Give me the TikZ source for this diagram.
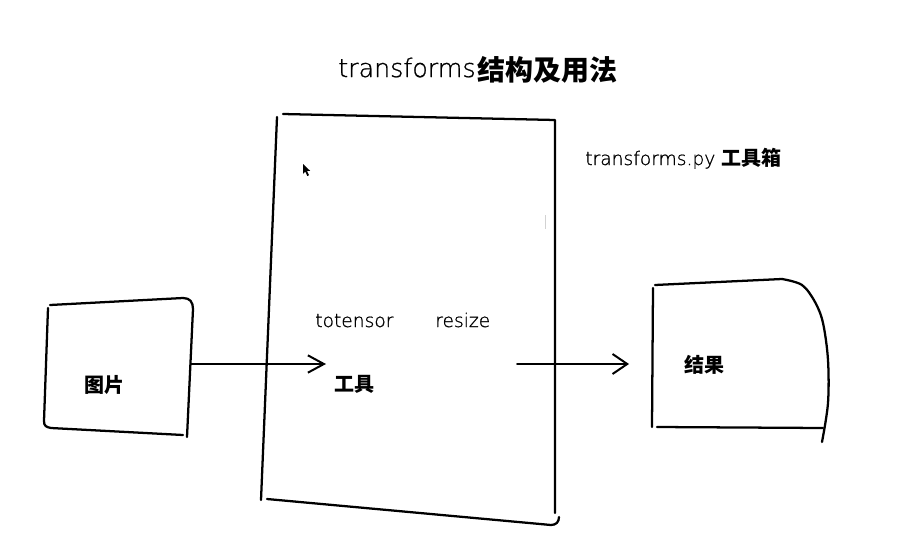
\documentclass[tikz,border=0pt]{standalone}
\usepackage{fontspec}
\usetikzlibrary{arrows.meta}
\newfontfamily\hand[FakeBold=0.9]{DejaVu Sans ExtraLight}
\newfontfamily\cjk{Noto Sans CJK SC}
\tikzset{
  sk/.style={line width=1.7pt, line cap=round, line join=round, black},
  conn/.style={line width=1.5pt, line cap=round, black},
  lat/.style={inner sep=0pt, anchor=base west, font=\hand},
  zh/.style={inner sep=0pt, anchor=base west, font=\cjk\bfseries},
}
\begin{document}
\begin{tikzpicture}[x=0.75pt,y=-0.75pt]
\useasboundingbox[fill=white] (0,0) rectangle (903,546);

% title
\node[lat, font=\hand\fontsize{19}{22}\selectfont] (title1) at (338,77) {transforms};
\node[zh, font=\cjk\bfseries\fontsize{21}{24}\selectfont] (title2) at (477,80) {结构及用法};

% toolbox caption
\node[lat, font=\hand\fontsize{14}{17}\selectfont] (cap1) at (585,165) {transforms.py};
\node[zh, font=\cjk\bfseries\fontsize{15}{18}\selectfont] (cap2) at (721,165.5) {工具箱};

% left box (图片)
\draw[sk] (50,305) -- (183,298) .. controls (190,298) and (193,302) .. (193,309) -- (187,437);
\draw[sk] (48,308) -- (44,421) .. controls (44,426) and (46,427) .. (51,428) -- (183,435);
\node[zh, font=\cjk\bfseries\fontsize{15}{18}\selectfont] (img) at (84,392.5) {图片};

% central box (工具)
\draw[sk] (277,117) -- (261,500);
\draw[sk] (283,114) -- (555,120) -- (555,513);
\draw[sk] (267,499) -- (551,525) .. controls (556,525) and (559,522) .. (559,517);
\draw[gray!35, line width=0.6pt] (545,215) -- (545,229);
\node[lat, font=\hand\fontsize{14}{17}\selectfont] (tot) at (315,327) {totensor};
\node[lat, font=\hand\fontsize{14}{17}\selectfont] (res) at (435,327) {resize};
\node[zh, font=\cjk\bfseries\fontsize{15}{18}\selectfont] (tool) at (334,391.5) {工具};

% cursor
\fill[black] (303,164) -- (303,174) -- (305.3,171.6) -- (307.3,176) -- (309,175.2) -- (307,170.9) -- (310.2,170.9) -- cycle;

% right box (结果)
\draw[sk] (655,285) -- (782,279);
\draw[sk] plot[smooth, tension=0.55] coordinates {(782,279) (802,285) (815,302) (823,323) (828,360) (828,403) (822,442)};
\draw[sk] (653,288) -- (652,427);
\draw[sk] (657,427) -- (823,428);
\node[zh, font=\cjk\bfseries\fontsize{15}{18}\selectfont] (res2) at (684,372.5) {结果};

% arrows
\coordinate (a1s) at (191,364);
\coordinate (a1e) at (326,364);
\coordinate (a2s) at (517,364);
\coordinate (a2e) at (629,364);
\draw[conn, -{Straight Barb[length=12pt, width=13pt, line width=1.5pt]}] (a1s) -- (a1e);
\draw[conn, -{Straight Barb[length=11pt, width=15pt, line width=1.5pt]}] (a2s) -- (a2e);
\end{tikzpicture}
\end{document}
